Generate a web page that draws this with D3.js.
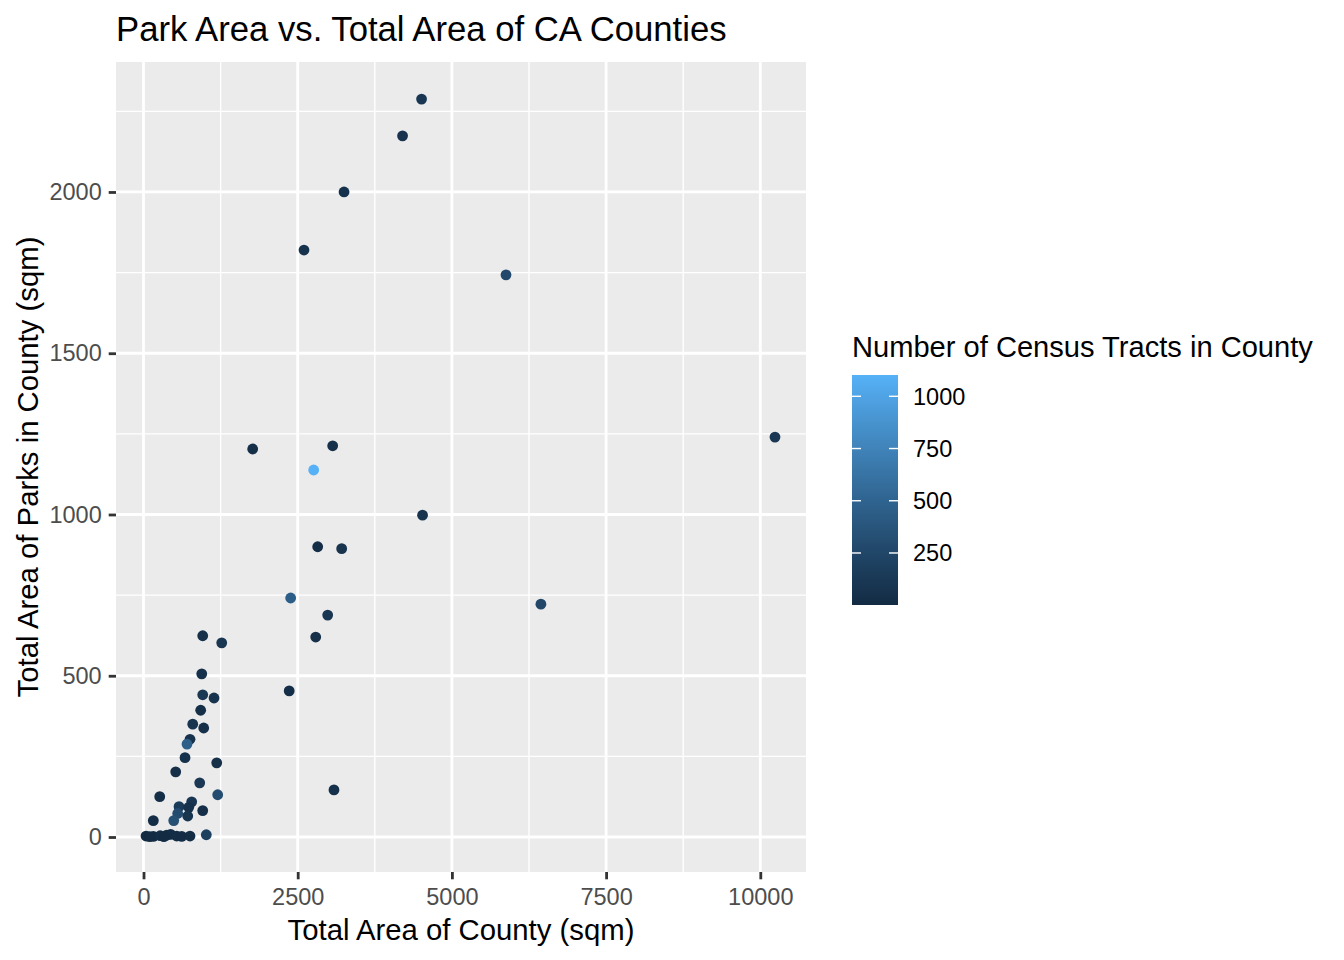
<!DOCTYPE html>
<html>
<head>
<meta charset="utf-8">
<script src="https://cdn.jsdelivr.net/npm/d3@7"></script>
<style>
  html, body { margin: 0; padding: 0; background: #ffffff; }
  svg { display: block; font-family: "Liberation Sans", Arial, sans-serif; }
</style>
</head>
<body>
<svg id="chart" width="1344" height="960"></svg>
<script>
// ---- data ----
const totalArea = [
  4508, 4200, 3251, 2602, 5877, 10238, 1770, 3067, 2759, 4524,
  2824, 3213, 6443, 2386, 2986, 2792, 2362, 3088,
  960, 1268, 944, 960, 1143, 927, 798, 976, 754, 705,
  673, 1187, 522, 911, 1203, 263, 781, 576, 733, 554,
  960, 717, 490, 159, 1018,
  41, 159, 270, 376, 440, 538, 619, 754, 330, 100
];
const parkArea = [
  2288, 2174, 2000, 1820, 1743, 1240, 1203, 1213, 1138, 998,
  900, 894, 722, 741, 688, 620, 453, 146,
  624, 602, 506, 441, 431, 393, 350, 338, 303, 288,
  246, 230, 202, 168, 131, 125, 109, 94, 92, 73,
  82, 65, 51, 51, 7,
  3, 2, 4, 6, 8, 3, 2, 3, 1, 1
];
const tracts = [
  100, 80, 60, 70, 270, 110, 40, 60, 1102, 90,
  30, 80, 250, 450, 100, 50, 30, 60,
  50, 110, 60, 120, 80, 40, 90, 50, 70, 460,
  60, 50, 40, 120, 300, 30, 100, 150, 60, 300,
  40, 90, 330, 20, 200,
  1, 10, 30, 40, 20, 30, 15, 25, 10, 2
];
const xTicks = [0, 2500, 5000, 7500, 10000];
const xMinor = [1250, 3750, 6250, 8750];
const yTicks = [0, 500, 1000, 1500, 2000];
const yMinor = [250, 750, 1250, 1750, 2250];
const legendTicks = [250, 500, 750, 1000];
const titleText = "Park Area vs. Total Area of CA Counties";
const xTitle = "Total Area of County (sqm)";
const yTitle = "Total Area of Parks in County (sqm)";
const legendTitle = "Number of Census Tracts in County";

// ---- layout ----
const panel = { left: 116, right: 806, top: 62, bottom: 872 };
const svg = d3.select("#chart");

const x = d3.scaleLinear().domain([-446, 10741]).range([panel.left, panel.right]);
const y = d3.scaleLinear().domain([-108.5, 2403]).range([panel.bottom, panel.top]);
const tMin = d3.min(tracts), tMax = d3.max(tracts);
const color = d3.scaleLinear().domain([tMin, tMax])
  .range(["#132B43", "#56B1F7"]).interpolate(d3.interpolateLab);

// panel background
svg.append("rect")
  .attr("x", panel.left).attr("y", panel.top)
  .attr("width", panel.right - panel.left).attr("height", panel.bottom - panel.top)
  .attr("fill", "#EBEBEB");

const grid = svg.append("g");
// minor grid
grid.selectAll("line.xmin").data(xMinor).enter().append("line")
  .attr("x1", d => x(d)).attr("x2", d => x(d))
  .attr("y1", panel.top).attr("y2", panel.bottom)
  .attr("stroke", "#fff").attr("stroke-width", 1.4);
grid.selectAll("line.ymin").data(yMinor).enter().append("line")
  .attr("y1", d => y(d)).attr("y2", d => y(d))
  .attr("x1", panel.left).attr("x2", panel.right)
  .attr("stroke", "#fff").attr("stroke-width", 1.4);
// major grid
grid.selectAll("line.xmaj").data(xTicks).enter().append("line")
  .attr("x1", d => x(d)).attr("x2", d => x(d))
  .attr("y1", panel.top).attr("y2", panel.bottom)
  .attr("stroke", "#fff").attr("stroke-width", 2.8);
grid.selectAll("line.ymaj").data(yTicks).enter().append("line")
  .attr("y1", d => y(d)).attr("y2", d => y(d))
  .attr("x1", panel.left).attr("x2", panel.right)
  .attr("stroke", "#fff").attr("stroke-width", 2.8);

// axes
const xAxis = d3.axisBottom(x).tickValues(xTicks).tickSize(7.3).tickPadding(9).tickFormat(d3.format("d"));
const gx = svg.append("g").attr("transform", `translate(0,${panel.bottom})`).call(xAxis);
gx.select(".domain").remove();
gx.selectAll(".tick line").attr("stroke", "#333333").attr("stroke-width", 2.8);
gx.selectAll(".tick text").attr("fill", "#4D4D4D").style("font-size", "23.5px")
  .style("font-family", "'Liberation Sans', Arial, sans-serif");

const yAxis = d3.axisLeft(y).tickValues(yTicks).tickSize(7.3).tickPadding(7).tickFormat(d3.format("d"));
const gy = svg.append("g").attr("transform", `translate(${panel.left},0)`).call(yAxis);
gy.select(".domain").remove();
gy.selectAll(".tick line").attr("stroke", "#333333").attr("stroke-width", 2.8);
gy.selectAll(".tick text").attr("fill", "#4D4D4D").style("font-size", "23.5px")
  .style("font-family", "'Liberation Sans', Arial, sans-serif");

// points
const pts = totalArea.map((d, i) => ({ x: d, y: parkArea[i], t: tracts[i] }));
svg.append("g").selectAll("circle").data(pts).enter().append("circle")
  .attr("cx", d => x(d.x)).attr("cy", d => y(d.y)).attr("r", 5.4)
  .attr("fill", d => color(d.t));

// titles
svg.append("text").attr("x", panel.left).attr("y", 41)
  .style("font-size", "34.7px").attr("fill", "#000").text(titleText);
svg.append("text").attr("x", (panel.left + panel.right) / 2).attr("y", 940)
  .attr("text-anchor", "middle").style("font-size", "29.3px").attr("fill", "#000").text(xTitle);
svg.append("text").attr("transform", `translate(38,${(panel.top + panel.bottom) / 2}) rotate(-90)`)
  .attr("text-anchor", "middle").style("font-size", "29.3px").attr("fill", "#000").text(yTitle);

// legend
const leg = { x: 852, w: 46, top: 375, bottom: 605 };
svg.append("text").attr("x", leg.x).attr("y", 357)
  .style("font-size", "29.1px").attr("fill", "#000").text(legendTitle);
const ly = d3.scaleLinear().domain([tMin, tMax]).range([leg.bottom, leg.top]);
const defs = svg.append("defs");
const grad = defs.append("linearGradient").attr("id", "cbar")
  .attr("x1", 0).attr("y1", 1).attr("x2", 0).attr("y2", 0);
d3.range(0, 1.0001, 0.05).forEach(f => {
  grad.append("stop").attr("offset", f)
    .attr("stop-color", color(tMin + f * (tMax - tMin)));
});
svg.append("rect").attr("x", leg.x).attr("y", leg.top)
  .attr("width", leg.w).attr("height", leg.bottom - leg.top).attr("fill", "url(#cbar)");
const lt = svg.append("g");
legendTicks.forEach(v => {
  const yy = ly(v);
  lt.append("line").attr("x1", leg.x).attr("x2", leg.x + 9).attr("y1", yy).attr("y2", yy)
    .attr("stroke", "#fff").attr("stroke-width", 1.4);
  lt.append("line").attr("x1", leg.x + leg.w - 9).attr("x2", leg.x + leg.w).attr("y1", yy).attr("y2", yy)
    .attr("stroke", "#fff").attr("stroke-width", 1.4);
  lt.append("text").attr("x", 913).attr("y", yy).attr("dy", "0.36em")
    .style("font-size", "23.5px").attr("fill", "#000").text(v);
});
</script>
</body>
</html>
